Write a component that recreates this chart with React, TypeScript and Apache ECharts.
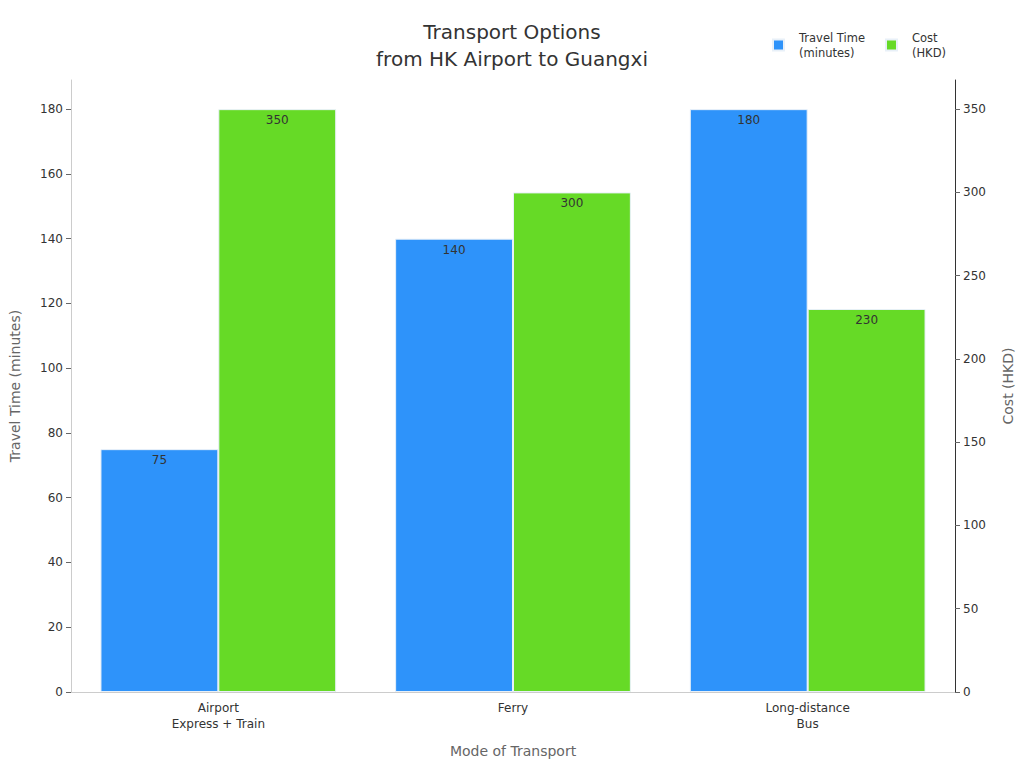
import React, { useEffect, useRef } from "react";
import * as echarts from "echarts";

const categories = ["Airport\nExpress + Train", "Ferry", "Long-distance\nBus"];
const travelTime = [75, 140, 180];
const cost = [350, 300, 230];
const seriesNames = ["Travel Time\n(minutes)", "Cost\n(HKD)"];

export default function App() {
  const ref = useRef<HTMLDivElement>(null);
  useEffect(() => {
    document.body.style.margin = "0";
    const chart = echarts.init(ref.current!, null, { renderer: "svg" });
    const font = "DejaVu Sans";
    chart.setOption({
      animation: false,
      textStyle: { fontFamily: font },
      color: ["#2E93FA", "#66DA26"],
      title: {
        text: "Transport Options\nfrom HK Airport to Guangxi",
        left: "center",
        top: 13,
        textStyle: { fontSize: 20, fontWeight: "normal", color: "#333", lineHeight: 27, fontFamily: font },
      },
      legend: {
        top: 25,
        right: 73,
        icon: "rect",
        itemWidth: 11,
        itemHeight: 11,
        itemGap: 20,
        textStyle: { fontSize: 11.5, color: "#333", lineHeight: 15, fontFamily: font, padding: [0, 0, 0, 10] },
        data: seriesNames,
      },
      grid: { left: 68, right: 69, top: 80, bottom: 76 },
      xAxis: {
        type: "category",
        data: categories,
        name: "Mode of Transport",
        nameLocation: "middle",
        nameGap: 52,
        nameTextStyle: { fontSize: 14, color: "#666" },
        axisLine: { lineStyle: { color: "#ccc" } },
        axisTick: { alignWithLabel: true, lineStyle: { color: "#999" } },
        axisLabel: { color: "#333", fontSize: 12, lineHeight: 16, margin: 8 },
      },
      yAxis: [
        {
          type: "value",
          min: 0,
          max: 189,
          interval: 20,
          name: "Travel Time (minutes)",
          nameLocation: "middle",
          nameGap: 49,
          nameTextStyle: { fontSize: 14, color: "#666" },
          axisLine: { show: true, lineStyle: { color: "#ccc" } },
          axisTick: { show: true, lineStyle: { color: "#666" } },
          axisLabel: { color: "#333", fontSize: 12, showMaxLabel: false },
          splitLine: { show: false },
        },
        {
          type: "value",
          min: 0,
          max: 367.5,
          interval: 50,
          name: "Cost (HKD)",
          nameLocation: "middle",
          nameGap: 46,
          nameTextStyle: { fontSize: 14, color: "#666" },
          axisLine: { show: true, lineStyle: { color: "#333" } },
          axisTick: { show: true, lineStyle: { color: "#666" } },
          axisLabel: { color: "#333", fontSize: 12, showMaxLabel: false },
          splitLine: { show: false },
        },
      ],
      series: [
        {
          name: seriesNames[0],
          type: "bar",
          data: travelTime,
          yAxisIndex: 0,
          barGap: "0%",
          barCategoryGap: "20%",
          itemStyle: { borderColor: "#e8f0f8", borderWidth: 1 },
          label: { show: true, position: "insideTop", color: "#333", fontSize: 12, distance: 5 },
        },
        {
          name: seriesNames[1],
          type: "bar",
          data: cost,
          yAxisIndex: 1,
          barGap: "0%",
          barCategoryGap: "20%",
          itemStyle: { borderColor: "#e8f0f8", borderWidth: 1 },
          label: { show: true, position: "insideTop", color: "#333", fontSize: 12, distance: 5 },
        },
      ],
    });
    return () => chart.dispose();
  }, []);
  return <div ref={ref} style={{ width: 1024, height: 768 }} />;
}
